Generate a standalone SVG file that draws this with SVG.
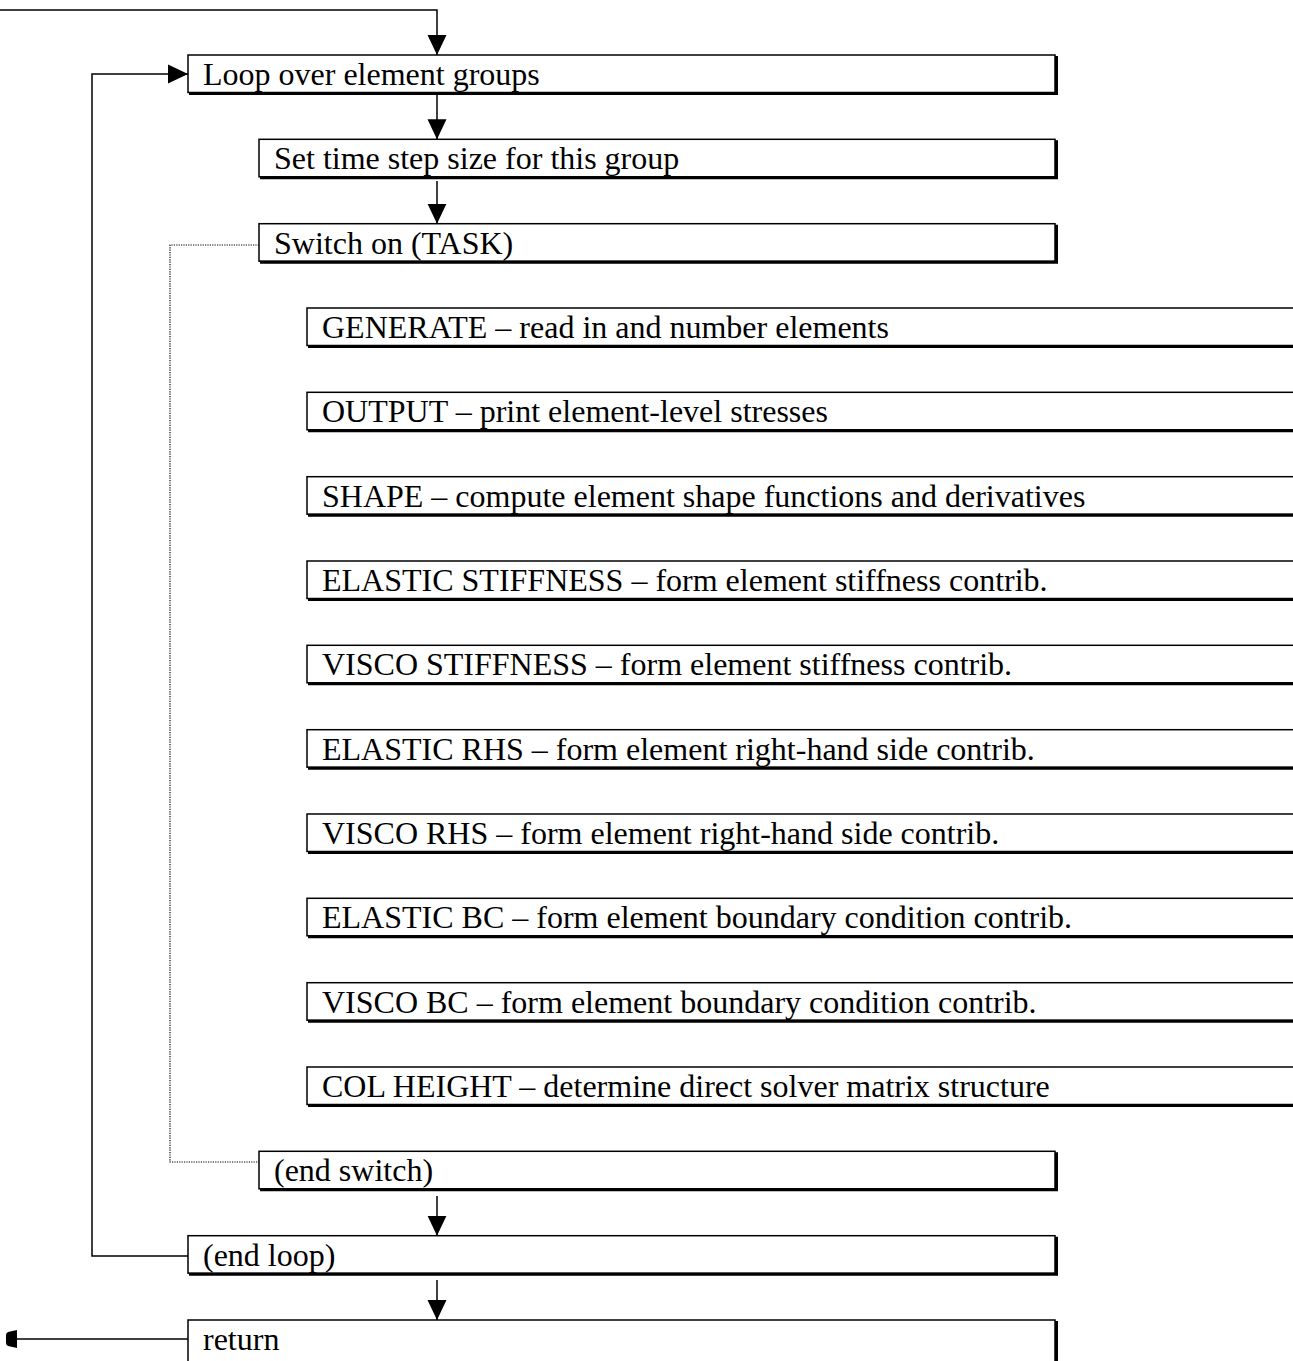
<svg xmlns="http://www.w3.org/2000/svg" width="1293" height="1361" viewBox="0 0 1293 1361">
  <style>
    .box { fill: #ffffff; stroke: #000000; stroke-width: 1.5; }
    .shadow { fill: none; stroke: #000000; stroke-width: 3; }
    .label { font-family: "Liberation Serif", "Times New Roman", serif; font-size: 32px; fill: #000000; }
    .wire { fill: none; stroke: #000000; stroke-width: 1.5; }
    .dots { fill: none; stroke: #000000; stroke-width: 1.2; stroke-dasharray: 1.2 1.2; }
  </style>
  <defs>
    <marker id="head" viewBox="0 0 20 20" refX="20" refY="10" markerWidth="20" markerHeight="20" markerUnits="userSpaceOnUse" orient="auto">
      <path d="M0,0.5 L20,10 L0,19.5 Z" fill="#000000"/>
    </marker>
  </defs>

  <rect width="1293" height="1361" fill="#ffffff"/>

  <!-- connectors -->
  <g id="connectors">
    <path class="wire" d="M0,10 H437 V55" marker-end="url(#head)"/>
    <path class="wire" d="M188,1256 H92 V74 H188" marker-end="url(#head)"/>
    <path class="wire" d="M437,84 V139.3" marker-end="url(#head)"/>
    <path class="wire" d="M437,181 V223.7" marker-end="url(#head)"/>
    <path class="dots" d="M259,245 H170 V1162 H259"/>
    <path class="wire" d="M437,1196 V1235.7" marker-end="url(#head)"/>
    <path class="wire" d="M437,1280 V1320" marker-end="url(#head)"/>
    <path class="wire" d="M188,1339 H16"/>
    <path d="M17,1330 V1348 L8,1346 Q6,1345 6,1343 V1335 Q6,1333 8,1332 Z" fill="#000000"/>
  </g>

  <!-- main flow boxes -->
  <g id="loop-groups">
    <rect class="box" x="188" y="55" width="867" height="37.5"/>
    <path class="shadow" d="M189,93.5 H1056.5 V56"/>
    <text class="label" x="203" y="85">Loop over element groups</text>
  </g>
  <g id="set-time-step">
    <rect class="box" x="259" y="139.3" width="796" height="37.5"/>
    <path class="shadow" d="M260,177.8 H1056.5 V140.3"/>
    <text class="label" x="274" y="169.3">Set time step size for this group</text>
  </g>
  <g id="switch-task">
    <rect class="box" x="259" y="223.7" width="796" height="37.5"/>
    <path class="shadow" d="M260,262.2 H1056.5 V224.7"/>
    <text class="label" x="274" y="253.7">Switch on (TASK)</text>
  </g>

  <!-- task cases -->
  <g id="case-generate">
    <rect class="box" x="307" y="308" width="1000" height="37.5"/>
    <path class="shadow" d="M308,346.5 H1300"/>
    <text class="label" x="322" y="338">GENERATE – read in and number elements</text>
  </g>
  <g id="case-output">
    <rect class="box" x="307" y="392.3" width="1000" height="37.5"/>
    <path class="shadow" d="M308,430.8 H1300"/>
    <text class="label" x="322" y="422.3">OUTPUT – print element-level stresses</text>
  </g>
  <g id="case-shape">
    <rect class="box" x="307" y="476.7" width="1000" height="37.5"/>
    <path class="shadow" d="M308,515.2 H1300"/>
    <text class="label" x="322" y="506.7">SHAPE – compute element shape functions and derivatives</text>
  </g>
  <g id="case-elastic-stiffness">
    <rect class="box" x="307" y="561" width="1000" height="37.5"/>
    <path class="shadow" d="M308,599.5 H1300"/>
    <text class="label" x="322" y="591">ELASTIC STIFFNESS – form element stiffness contrib.</text>
  </g>
  <g id="case-visco-stiffness">
    <rect class="box" x="307" y="645.3" width="1000" height="37.5"/>
    <path class="shadow" d="M308,683.8 H1300"/>
    <text class="label" x="322" y="675.3">VISCO STIFFNESS – form element stiffness contrib.</text>
  </g>
  <g id="case-elastic-rhs">
    <rect class="box" x="307" y="729.7" width="1000" height="37.5"/>
    <path class="shadow" d="M308,768.2 H1300"/>
    <text class="label" x="322" y="759.7">ELASTIC RHS – form element right-hand side contrib.</text>
  </g>
  <g id="case-visco-rhs">
    <rect class="box" x="307" y="814" width="1000" height="37.5"/>
    <path class="shadow" d="M308,852.5 H1300"/>
    <text class="label" x="322" y="844">VISCO RHS – form element right-hand side contrib.</text>
  </g>
  <g id="case-elastic-bc">
    <rect class="box" x="307" y="898.3" width="1000" height="37.5"/>
    <path class="shadow" d="M308,936.8 H1300"/>
    <text class="label" x="322" y="928.3">ELASTIC BC – form element boundary condition contrib.</text>
  </g>
  <g id="case-visco-bc">
    <rect class="box" x="307" y="982.7" width="1000" height="37.5"/>
    <path class="shadow" d="M308,1021.2 H1300"/>
    <text class="label" x="322" y="1012.7">VISCO BC – form element boundary condition contrib.</text>
  </g>
  <g id="case-col-height">
    <rect class="box" x="307" y="1067" width="1000" height="37.5"/>
    <path class="shadow" d="M308,1105.5 H1300"/>
    <text class="label" x="322" y="1097">COL HEIGHT – determine direct solver matrix structure</text>
  </g>

  <!-- closing boxes -->
  <g id="end-switch">
    <rect class="box" x="259" y="1151.3" width="796" height="37.5"/>
    <path class="shadow" d="M260,1189.8 H1056.5 V1152.3"/>
    <text class="label" x="274" y="1181.3">(end switch)</text>
  </g>
  <g id="end-loop">
    <rect class="box" x="188" y="1235.7" width="867" height="37.5"/>
    <path class="shadow" d="M189,1274.2 H1056.5 V1236.7"/>
    <text class="label" x="203" y="1265.7">(end loop)</text>
  </g>
  <g id="return">
    <rect class="box" x="188" y="1320" width="867" height="45"/>
    <path class="shadow" d="M1056.5,1321 V1361"/>
    <text class="label" x="203" y="1350">return</text>
  </g>
</svg>
